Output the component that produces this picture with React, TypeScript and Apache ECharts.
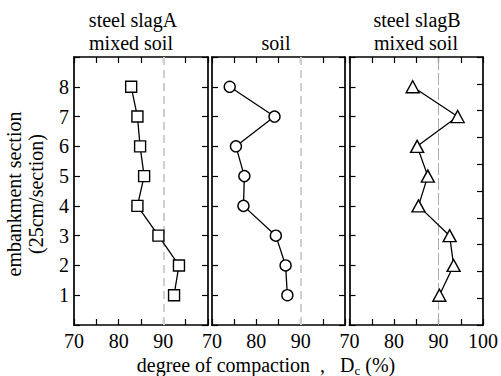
import React, { useEffect, useRef } from "react";
import * as echarts from "echarts";

const sections = [1, 2, 3, 4, 5, 6, 7, 8];
const slagA = [92.4, 93.5, 88.9, 84.2, 85.7, 84.8, 84.2, 82.8];
const soil = [87.0, 86.6, 84.4, 77.1, 77.3, 75.4, 84.1, 74.0];
const slagB = [90.2, 93.4, 92.5, 85.5, 87.6, 85.2, 94.3, 84.2];
const xLabelsShown = [[70, 80, 90], [70, 80, 90], [70, 80, 90, 100]];
const yLabelsShown = [1, 2, 3, 4, 5, 6, 7, 8];
const panelTitles = [["steel slagA", "mixed soil"], ["soil"], ["steel slagB", "mixed soil"]];
const symbols = ["rect", "circle", "triangle"];
const seriesNames = ["steel slagA mixed soil", "soil", "steel slagB mixed soil"];
const referenceDc = 90;

const FONT = "Liberation Serif, Times New Roman, serif";

export default function App() {
  const ref = useRef<HTMLDivElement>(null);
  useEffect(() => {
    const chart = echarts.init(ref.current!, null, { renderer: "svg" });
    const gridPos = [
      { left: 74, width: 134 },
      { left: 212, width: 133 },
      { left: 349.5, width: 135 },
    ];
    const grids = gridPos.map((g) => ({ ...g, top: 57, height: 268 }));
    const values = [slagA, soil, slagB];
    const axisLine = { show: true, onZero: false, lineStyle: { color: "#000", width: 1.7 } };
    const tick = { show: true, inside: true, length: 6, lineStyle: { color: "#000", width: 1.2 } };
    const xAxis: any[] = [];
    const yAxis: any[] = [];
    grids.forEach((_, i) => {
      const base = { gridIndex: i, type: "value", min: 70, max: 100, interval: 5, splitLine: { show: false }, axisLine, axisTick: tick };
      xAxis.push({
        ...base,
        position: "bottom",
        axisLabel: {
          margin: 6,
          fontSize: 20,
          color: "#000",
          fontFamily: FONT,
          showMinLabel: true,
          showMaxLabel: true,
          formatter: (v: number) => (xLabelsShown[i].includes(v) ? String(v) : ""),
        },
      });
      xAxis.push({ ...base, position: "top", axisLabel: { show: false } });
      const ybase = { gridIndex: i, type: "value", min: 0, max: 9, interval: 1, splitLine: { show: false }, axisLine, axisTick: tick };
      yAxis.push({
        ...ybase,
        position: "left",
        axisLabel: {
          show: i === 0,
          margin: 5,
          fontSize: 20,
          color: "#000",
          fontFamily: FONT,
          formatter: (v: number) => (yLabelsShown.includes(v) ? String(v) : ""),
        },
      });
      yAxis.push({ ...ybase, position: "right", max: i === 2 ? 10 : 9, axisLabel: { show: false } });
    });
    const series = values.map((vals, i) => ({
      type: "line",
      name: seriesNames[i],
      xAxisIndex: 2 * i,
      yAxisIndex: 2 * i,
      data: vals.map((v, k) => [v, sections[k]]),
      symbol: symbols[i],
      symbolSize: i === 2 ? [13, 12] : 11,
      showAllSymbol: true,
      lineStyle: { color: "#000", width: 1.3 },
      itemStyle: { color: "#fff", borderColor: "#000", borderWidth: 1.4 },
      z: 3,
      markLine: {
        silent: true,
        symbol: "none",
        label: { show: false },
        lineStyle:
          i === 2
            ? { color: "#aaa", width: 1, type: [12, 3] }
            : { color: "#cfcfcf", width: 2, type: [8, 5] },
        data: [{ xAxis: referenceDc }],
        z: 1,
      },
    }));
    const titleX = [[133, 131], [276], [417, 416]];
    const graphic: any[] = [];
    panelTitles.forEach((lines, i) => {
      const ys = lines.length === 2 ? [20, 43] : [43];
      lines.forEach((t, j) => {
        graphic.push({
          type: "text",
          x: titleX[i][j],
          y: ys[j],
          style: { text: t, fontSize: 20, fontFamily: FONT, fill: "#000", align: "center", verticalAlign: "middle" },
        });
      });
    });
    graphic.push({
      type: "text",
      x: 14,
      y: 194,
      rotation: Math.PI / 2,
      style: { text: "embankment section", fontSize: 20, fontFamily: FONT, fill: "#000", align: "center", verticalAlign: "middle" },
    });
    graphic.push({
      type: "text",
      x: 36,
      y: 194,
      rotation: Math.PI / 2,
      style: { text: "(25cm/section)", fontSize: 20, fontFamily: FONT, fill: "#000", align: "center", verticalAlign: "middle" },
    });
    graphic.push({
      type: "text",
      x: 266,
      y: 365,
      style: {
        text: "{m|degree of compaction  ,   D}{s|c}{m| (%)}",
        fontFamily: FONT,
        fill: "#000",
        align: "center",
        verticalAlign: "middle",
        rich: {
          m: { fontSize: 20, fontFamily: FONT, lineHeight: 24, verticalAlign: "bottom", height: 24 },
          s: { fontSize: 13, fontFamily: FONT, lineHeight: 14, height: 14, verticalAlign: "bottom" },
        },
      },
    });
    chart.setOption({
      animation: false,
      backgroundColor: "#fff",
      textStyle: { fontFamily: FONT },
      grid: grids,
      xAxis,
      yAxis,
      series,
      graphic,
    });
    return () => chart.dispose();
  }, []);
  return <div ref={ref} style={{ position: "fixed", left: 0, top: 0, width: 501, height: 376 }} />;
}
